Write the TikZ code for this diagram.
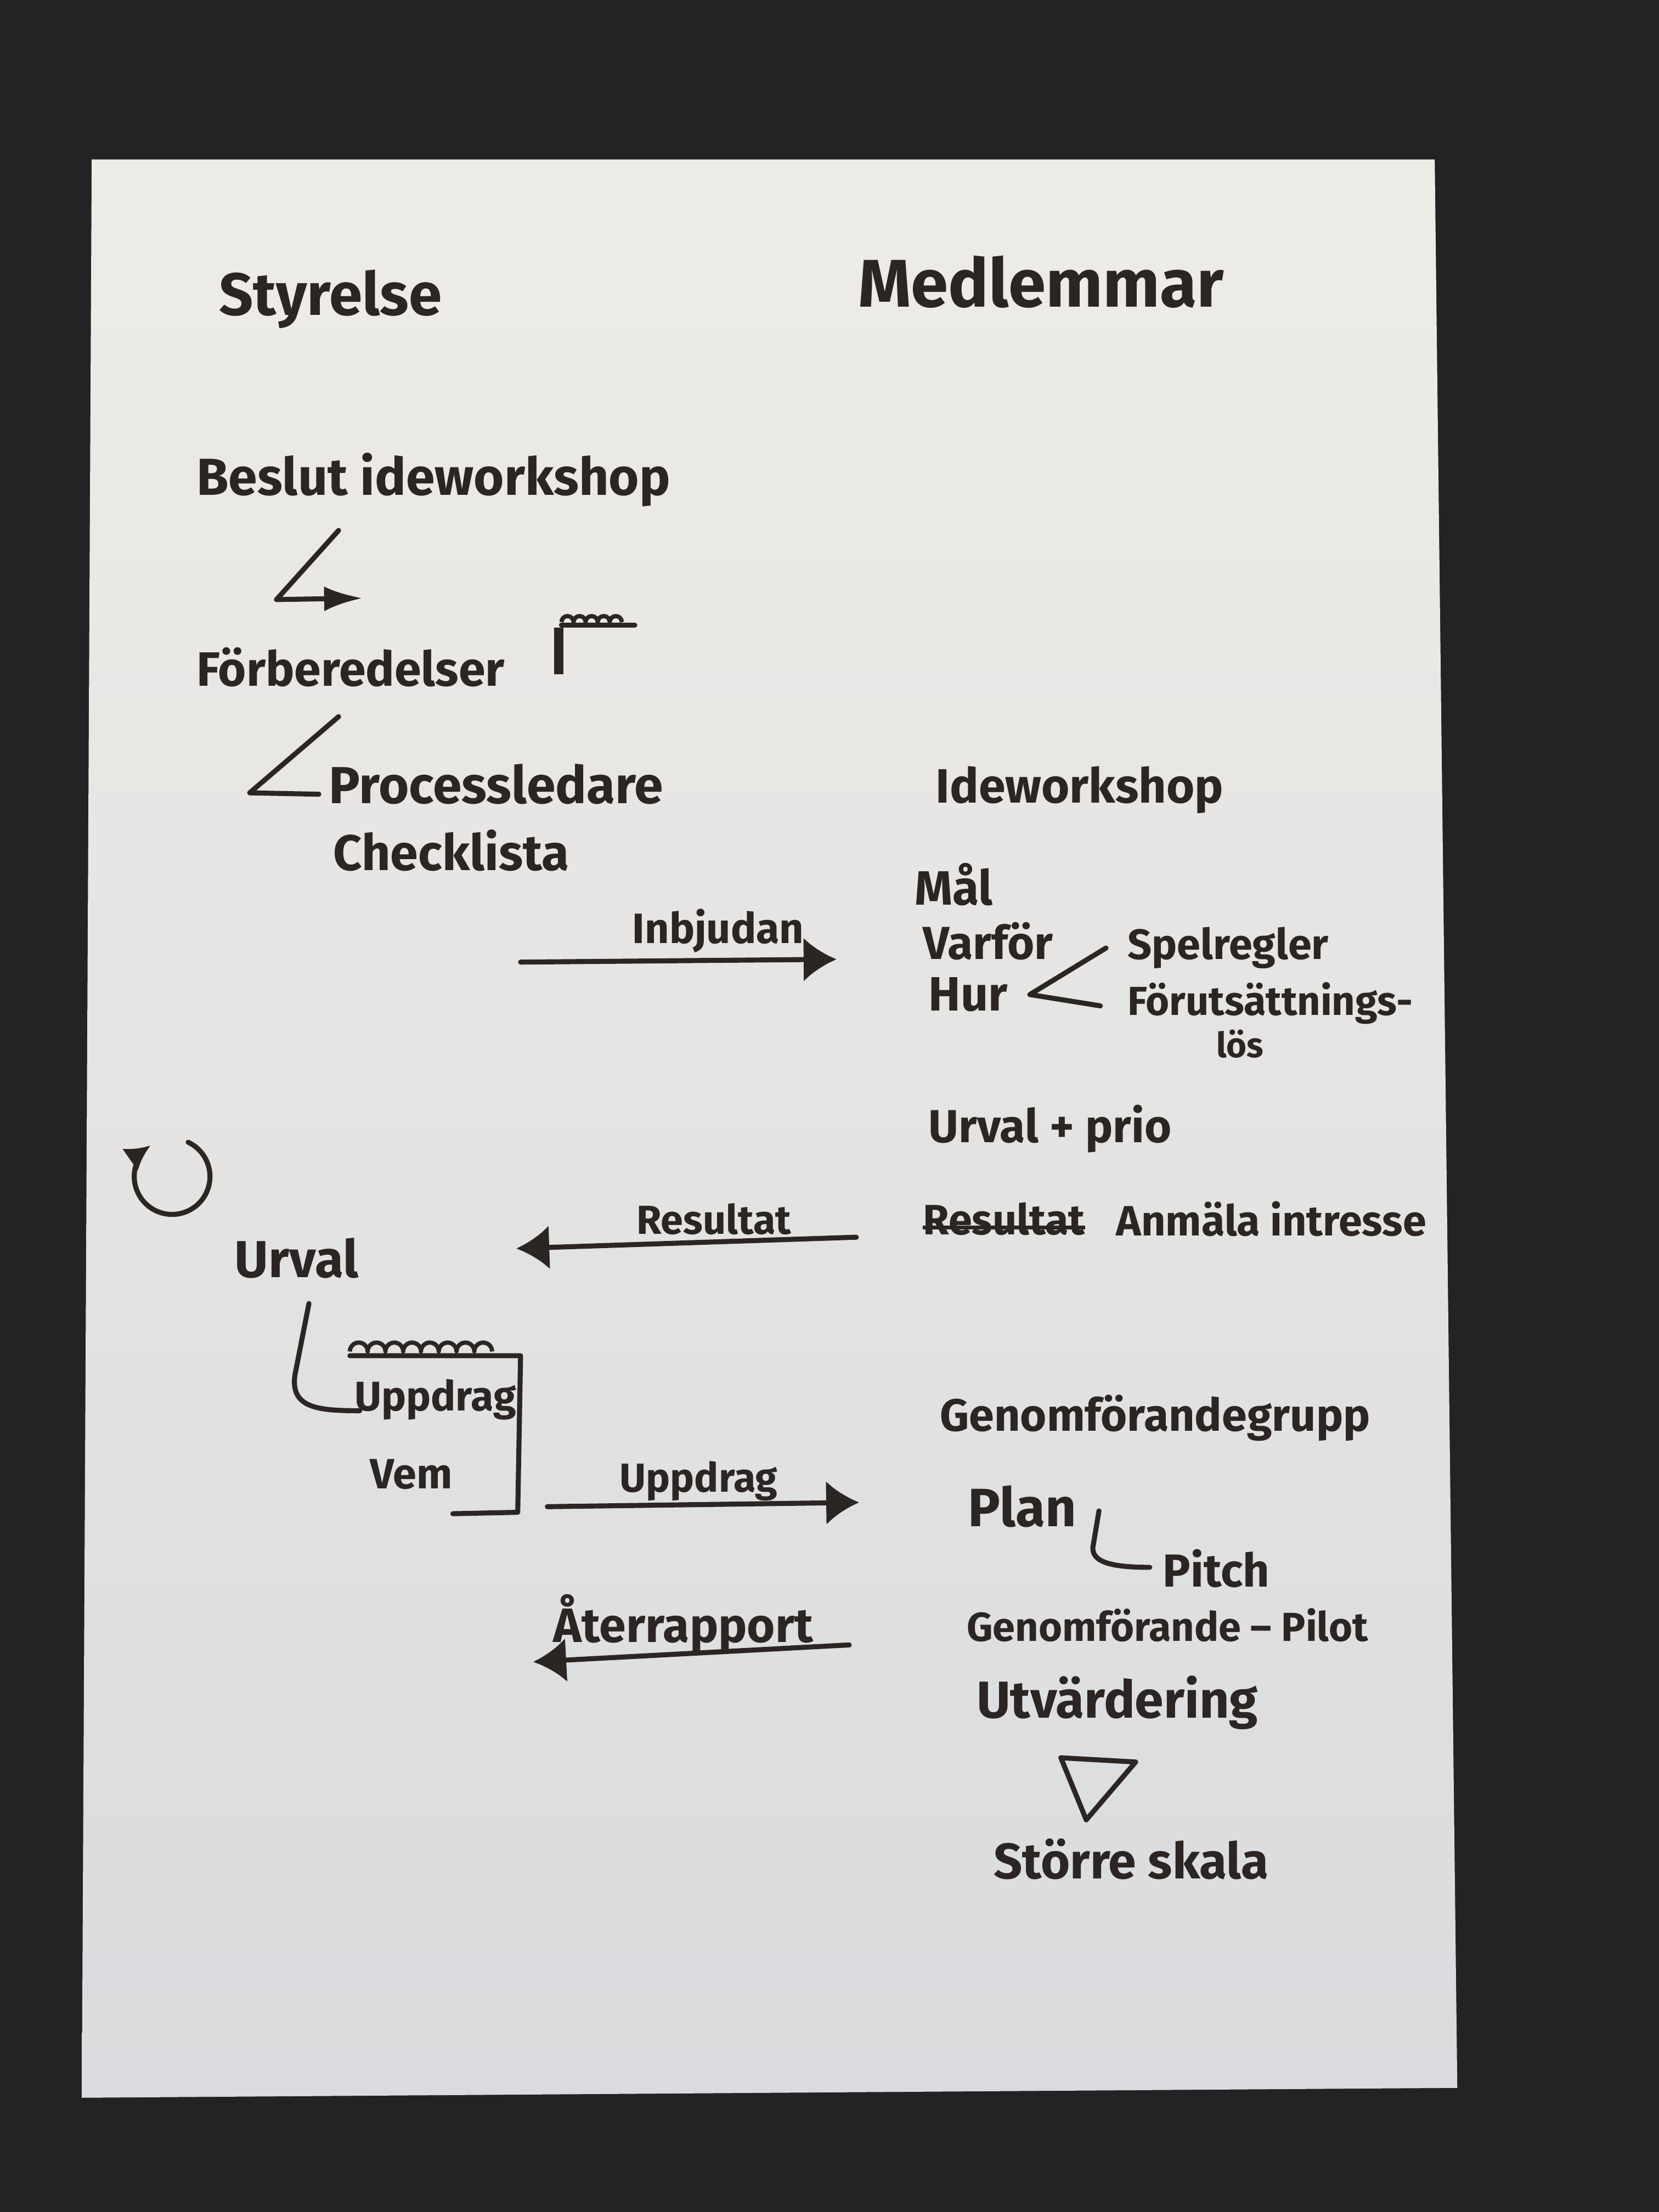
\documentclass[tikz,border=0pt]{standalone}
\usepackage{fontspec}
\setmainfont{Fira Sans}
\usetikzlibrary{calc,arrows.meta}
\definecolor{ink}{HTML}{2B2523}
\definecolor{board}{HTML}{232325}
\definecolor{papertop}{HTML}{EEECE7}
\definecolor{paperbot}{HTML}{DADBDE}
\def\ringrow(#1)(#2:#3){\draw[ink, line width=2.2pt, line join=round] (#1) \foreach \k in {1,...,#2}{arc[start angle=180, end angle=0, radius=#3]};}

\begin{document}
\begin{tikzpicture}[x=0.025714cm, y=-0.025714cm,
	hand/.style={text=ink, inner sep=0pt, anchor=west, font=\bfseries\fontsize{#1}{#1}\selectfont},
	pen/.style={ink, line width=2.6pt, line cap=round, line join=round},
	tip/.style={-{Latex[length=0.6cm, width=0.8cm]}}]
			%%%%% START %%%%%
			
			\useasboundingbox (0, 0) rectangle (1176, 1568);
			\fill[board] (0, 0) rectangle (1176, 1568);
			\shade[top color=papertop, bottom color=paperbot] (65, 113) -- (1017, 113) -- (1033, 1480) -- (58, 1487) -- cycle;
			
			\node[hand=31] (styrelse) at (155, 212) {Styrelse};
			\node[hand=35] (medlemmar) at (608, 200) {Medlemmar};
			
			\node[hand=27] (beslut) at (139, 340) {Beslut ideworkshop};
			\coordinate (b1) at (240, 376);
			\coordinate (b2) at (196, 425);
			\coordinate (b3) at (257, 424);
			\draw[pen, -{Latex[length=0.7cm, width=0.45cm]}] (b1) -- (b2) -- (b3);
			
			\node[hand=25] (forb) at (139, 473) {Förberedelser};
			\ringrow(398, 441)(5:0.11cm)
			\draw[pen] (398, 443) -- (450, 443);
			\draw[ink, line width=5pt] (396, 445) -- (396, 478);
			
			\coordinate (p1) at (240, 508);
			\coordinate (p2) at (177, 562);
			\coordinate (p3) at (226, 563);
			\draw[pen] (p1) -- (p2) -- (p3);
			\node[hand=27] (procl) at (233, 556) {Processledare};
			\node[hand=26] (check) at (236, 603) {Checklista};
			
			\node[hand=25] (idews) at (663, 560) {Ideworkshop};
			\node[hand=25] (mal) at (648, 627) {Mål};
			\node[hand=24] (varfor) at (654, 667) {Varför};
			\node[hand=25] (hur) at (658, 705) {Hur};
			
			\coordinate (h1) at (784, 672);
			\coordinate (h2) at (730, 705);
			\coordinate (h3) at (780, 713);
			\draw[pen] (h1) -- (h2) -- (h3);
			\node[hand=22] (spel) at (799, 672) {Spelregler};
			\node[hand=21] (forut) at (799, 711) {Förutsättnings-};
			\node[hand=18] (los) at (862, 740) {lös};
			
			\coordinate (i1) at (369, 682);
			\coordinate (i2) at (593, 680);
			\draw[pen, tip] (i1) -- (i2);
			\node[hand=22] (inbj) at (448, 660) {Inbjudan};
			
			\node[hand=24] (urvalprio) at (658, 800) {Urval + prio};
			\node[hand=22] (strk) at (654, 864) {Resultat};
			\draw[ink, line width=2pt] ($(strk.west)+(0, 6)$) -- ($(strk.east)+(0, 6)$);
			\node[hand=22] (anmala) at (791, 864) {Anmäla intresse};
			
			\coordinate (r1) at (607, 877);
			\coordinate (r2) at (366, 885);
			\draw[pen, tip] (r1) -- (r2);
			\node[hand=21] (resultat) at (451, 864) {Resultat};
			
			\coordinate (loop) at (122, 834);
			\draw[pen, -{Latex[length=0.45cm, width=0.5cm]}] ($(loop)+(65:0.69cm)$) arc[start angle=65, end angle=-235, radius=0.69cm];
			
			\node[hand=27] (urval) at (166, 892) {Urval};
			\coordinate (u1) at (219, 924);
			\coordinate (u2) at (255, 1000);
			\draw[pen] (u1) -- (209, 975) .. controls (206, 998) and (225, 1000) .. (u2);
			
			\ringrow(248, 958)(8:0.162cm)
			\draw[pen] (248, 961) -- (369, 961) -- (367, 1072) -- (321, 1073);
			\node[hand=21.5] (uppdragbox) at (251, 992) {Uppdrag};
			\node[hand=22] (vem) at (262, 1045) {Vem};
			
			\coordinate (d1) at (388, 1068);
			\coordinate (d2) at (609, 1065);
			\draw[pen, tip] (d1) -- (d2);
			\node[hand=21] (uppdrag) at (439, 1050) {Uppdrag};
			
			\coordinate (a1) at (602, 1166);
			\coordinate (a2) at (378, 1178);
			\draw[pen, tip] (a1) -- (a2);
			\node[hand=25] (ater) at (392, 1151) {Återrapport};
			
			\node[hand=23.5] (genomgrupp) at (666, 1005) {Genomförandegrupp};
			\node[hand=28] (plan) at (686, 1068) {Plan};
			\coordinate (c1) at (779, 1071);
			\coordinate (c2) at (815, 1111);
			\draw[pen] (c1) -- (775, 1095) .. controls (772, 1108) and (790, 1111) .. (c2);
			\node[hand=24] (pitch) at (824, 1112) {Pitch};
			
			\node[hand=21] (pilot) at (685, 1152) {Genomförande – Pilot};
			\node[hand=27] (utvard) at (692, 1207) {Utvärdering};
			
			\draw[pen] (752, 1246) -- (805, 1249) -- (770, 1290) -- cycle;
			\node[hand=26] (storre) at (704, 1318) {Större skala};
			
			%%%%% END %%%%%
\end{tikzpicture}
\end{document}
